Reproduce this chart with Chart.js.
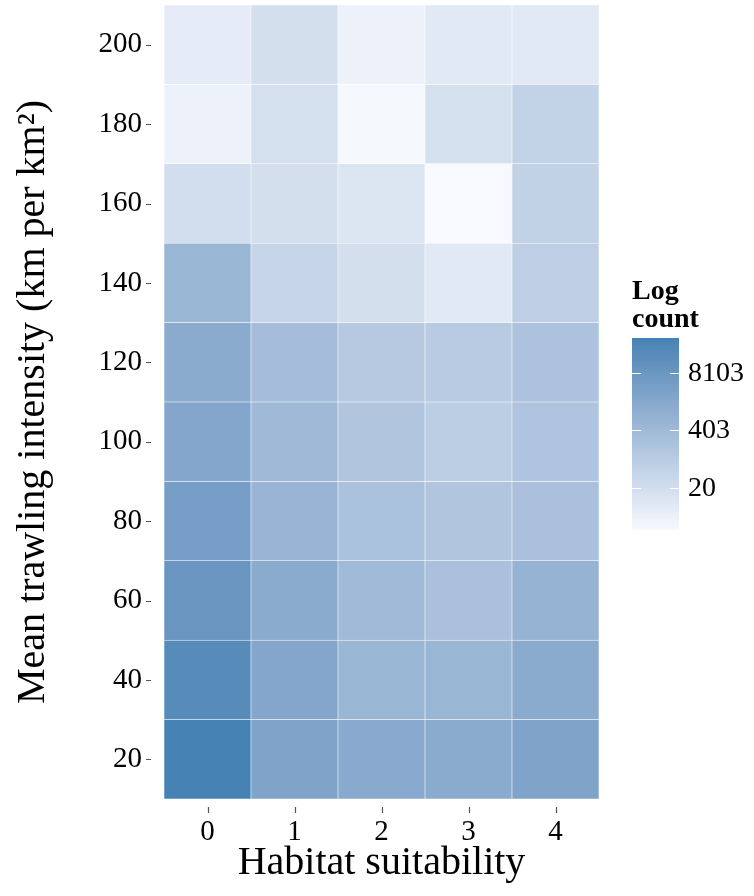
<!DOCTYPE html>
<html><head><meta charset="utf-8">
<script src="https://cdn.jsdelivr.net/npm/chart.js@4"></script>
<style>html,body{margin:0;padding:0;background:#fff}</style>
</head><body>
<canvas id="c" width="754" height="896"></canvas>
<script>
// ---- data ----
const habitat = ['0', '1', '2', '3', '4'];
const trawling = [20, 40, 60, 80, 100, 120, 140, 160, 180, 200];
// natural-log counts per habitat class, listed for trawling 20 -> 200
const logCountH0 = [10.8, 10.0, 9.1, 8.4, 7.6, 7.2, 6.3, 3.0, 1.4, 1.8];
const logCountH1 = [7.9, 7.6, 7.2, 6.4, 6.0, 5.7, 3.7, 2.9, 2.8, 2.9];
const logCountH2 = [7.3, 6.3, 5.9, 5.3, 5.0, 4.7, 2.9, 2.4, 0.9, 1.4];
const logCountH3 = [7.2, 6.3, 5.4, 5.0, 4.3, 4.5, 2.1, 0.8, 2.8, 2.1];
const logCountH4 = [7.9, 7.2, 6.5, 5.4, 5.1, 5.2, 4.2, 4.0, 3.9, 2.1];
const yTicks = [20, 40, 60, 80, 100, 120, 140, 160, 180, 200];
const legendTickValues = [3, 6, 9];
const legendTickLabels = ['20', '403', '8103'];

// ---- colour scale (CIELAB interpolation, like ggplot2) ----
const columns = [logCountH0, logCountH1, logCountH2, logCountH3, logCountH4];
const allVals = columns.flat();
const vMin = Math.min(...allVals), vMax = Math.max(...allVals);
function srgbToLin(c) { c /= 255; return c <= 0.04045 ? c / 12.92 : Math.pow((c + 0.055) / 1.055, 2.4); }
function linToSrgb(c) { c = c <= 0.0031308 ? 12.92 * c : 1.055 * Math.pow(c, 1 / 2.4) - 0.055; return Math.max(0, Math.min(255, Math.round(c * 255))); }
const WX = 0.95047, WY = 1, WZ = 1.08883;
function rgbToLab(rgb) {
  const [r, g, b] = rgb.map(srgbToLin);
  const x = (0.4124 * r + 0.3576 * g + 0.1805 * b) / WX;
  const y = (0.2126 * r + 0.7152 * g + 0.0722 * b) / WY;
  const z = (0.0193 * r + 0.1192 * g + 0.9505 * b) / WZ;
  const f = t => t > 0.008856 ? Math.cbrt(t) : 7.787 * t + 16 / 116;
  return [116 * f(y) - 16, 500 * (f(x) - f(y)), 200 * (f(y) - f(z))];
}
function labToRgb([L, a, bb]) {
  const fy = (L + 16) / 116, fx = fy + a / 500, fz = fy - bb / 200;
  const inv = t => t * t * t > 0.008856 ? t * t * t : (t - 16 / 116) / 7.787;
  const x = inv(fx) * WX, y = inv(fy) * WY, z = inv(fz) * WZ;
  const r = 3.2406 * x - 1.5372 * y - 0.4986 * z;
  const g = -0.9689 * x + 1.8758 * y + 0.0415 * z;
  const b = 0.0557 * x - 0.2040 * y + 1.0570 * z;
  return [linToSrgb(r), linToSrgb(g), linToSrgb(b)];
}
const LOW = rgbToLab([247, 249, 254]), HIGH = rgbToLab([70, 130, 180]);
function colorFor(v) {
  const t = Math.max(0, Math.min(1, (v - vMin) / (vMax - vMin)));
  const c = labToRgb(LOW.map((l, i) => l + (HIGH[i] - l) * t));
  return `rgb(${c[0]},${c[1]},${c[2]})`;
}

const half = (trawling[1] - trawling[0]) / 2;
const datasets = trawling.map((y, r) => ({
  label: String(y),
  data: habitat.map(() => [y - half, y + half]),
  backgroundColor: columns.map(col => colorFor(col[r])),
  borderColor: 'rgba(255,255,255,0.55)',
  borderWidth: 0.6,
  borderSkipped: false,
  grouped: false,
  barPercentage: 1,
  categoryPercentage: 1
}));

const FONT = '"Liberation Serif", "Times New Roman", serif';
Chart.defaults.font.family = FONT;
Chart.defaults.color = '#000';

// small detached tick marks, placed with the chart's own scales
const tickMarks = {
  id: 'tickMarks',
  afterDraw(chart) {
    const ctx = chart.ctx, ca = chart.chartArea;
    const xs = chart.scales.x, ys = chart.scales.y;
    ctx.save();
    ctx.strokeStyle = '#555';
    ctx.lineWidth = 1.2;
    ctx.beginPath();
    ys.ticks.forEach(t => {
      const y = Math.round(ys.getPixelForValue(t.value)) + 0.5;
      ctx.moveTo(ca.left - 18, y); ctx.lineTo(ca.left - 13, y);
    });
    xs.ticks.forEach((t, i) => {
      const x = Math.round(xs.getPixelForTick(i)) + 0.5;
      ctx.moveTo(x, ca.bottom + 8); ctx.lineTo(x, ca.bottom + 14);
    });
    ctx.stroke();
    ctx.restore();
  }
};

const colorbar = {
  id: 'colorbar',
  afterDraw(chart) {
    const ctx = chart.ctx, ca = chart.chartArea;
    const x0 = ca.right + 33, w = 47;
    const top = ca.top + 333, bottom = ca.top + 525;
    const g = ctx.createLinearGradient(0, bottom, 0, top);
    for (let i = 0; i <= 20; i++) {
      g.addColorStop(i / 20, colorFor(vMin + (vMax - vMin) * i / 20));
    }
    ctx.save();
    ctx.fillStyle = g;
    ctx.fillRect(x0, top, w, bottom - top);
    ctx.strokeStyle = '#fff';
    ctx.lineWidth = 1;
    ctx.fillStyle = '#000';
    ctx.font = '28px ' + FONT;
    ctx.textAlign = 'left';
    ctx.textBaseline = 'middle';
    legendTickValues.forEach((v, i) => {
      const y = Math.round(bottom - (v - vMin) / (vMax - vMin) * (bottom - top)) + 0.5;
      ctx.beginPath();
      ctx.moveTo(x0, y); ctx.lineTo(x0 + 9, y);
      ctx.moveTo(x0 + w - 9, y); ctx.lineTo(x0 + w, y);
      ctx.stroke();
      ctx.fillText(legendTickLabels[i], x0 + w + 9, y);
    });
    ctx.font = 'bold 28px ' + FONT;
    ctx.textBaseline = 'alphabetic';
    ctx.fillText('Log', x0, top - 39);
    ctx.fillText('count', x0, top - 11);
    ctx.restore();
  }
};

new Chart(document.getElementById('c'), {
  type: 'bar',
  data: { labels: habitat, datasets },
  options: {
    responsive: false,
    devicePixelRatio: 1,
    animation: false,
    events: [],
    layout: { padding: { left: 0, right: 155, top: 5, bottom: 0 } },
    plugins: { legend: { display: false }, tooltip: { enabled: false } },
    scales: {
      x: {
        type: 'category',
        offset: true,
        grid: { display: false, drawTicks: false },
        border: { display: false },
        ticks: { font: { size: 29 }, color: '#000', padding: 16, maxRotation: 0 },
        title: { display: true, text: 'Habitat suitability', font: { size: 40 }, color: '#000', padding: { top: 0, bottom: 9 } },
        afterFit(s) { s.height = 97; s.paddingLeft = 0; s.paddingRight = 0; }
      },
      y: {
        type: 'linear',
        min: trawling[0] - half,
        max: trawling[trawling.length - 1] + half,
        afterBuildTicks(s) { s.ticks = yTicks.map(v => ({ value: v })); },
        grid: { display: false, drawTicks: false },
        border: { display: false },
        ticks: { font: { size: 29 }, color: '#000', padding: 22 },
        title: { display: true, text: 'Mean trawling intensity (km per km²)', font: { size: 40 }, color: '#000', padding: { top: 9, bottom: 0 } },
        afterFit(s) { s.width = 164; s.paddingTop = 0; s.paddingBottom = 0; }
      }
    }
  },
  plugins: [tickMarks, colorbar]
});
</script>
</body></html>
